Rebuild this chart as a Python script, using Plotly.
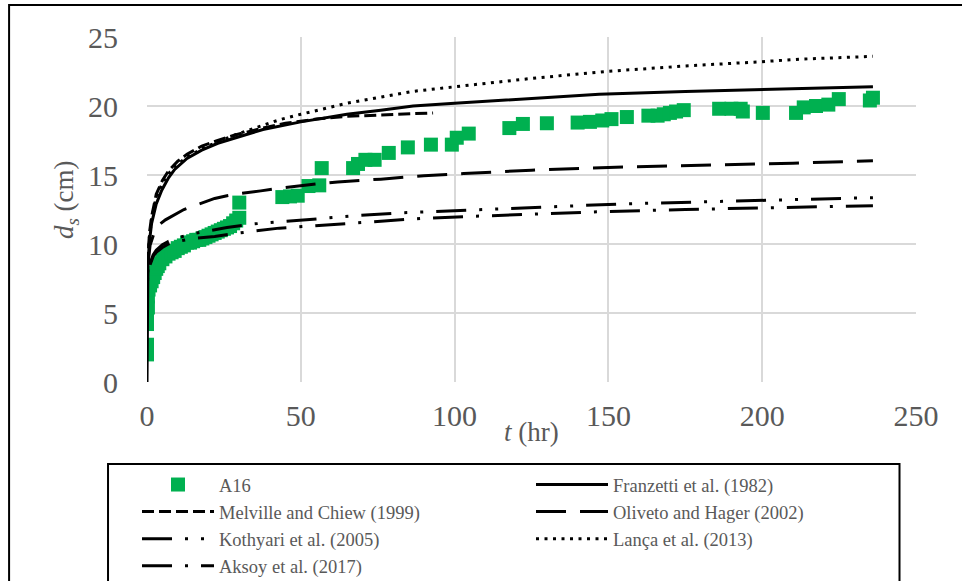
import plotly.graph_objects as go

# ---------------- data ----------------
a16_t = [0, 0, 0, 0, 0.3, 0.3, 0.5, 1, 1.5, 2, 2.5, 3, 3.5, 4, 5, 6, 7, 8, 9, 10,
         11, 12, 13, 14, 15, 16, 17, 18, 19, 20, 21, 22, 23, 24, 25, 26, 27, 28, 29, 30, 30,
         44, 46.5, 49, 52.5, 56, 56.8, 67, 68.6, 71, 74, 78.6, 84.8, 92.3, 99.1, 100.7, 104.6,
         117.8, 122.2, 130, 140, 144, 148, 151, 156, 163, 166, 168, 170, 172, 174.5,
         186, 190, 193, 193.7, 200.2, 211, 213.5, 217.5, 221.5, 224.9, 235, 236]
a16_d = [2.0, 2.7, 4.2, 4.6, 5.4, 6.2, 6.7, 7.0, 7.3, 7.6, 7.9, 8.2, 8.4, 8.6, 8.9, 9.1, 9.3, 9.4, 9.5, 9.7,
         9.8, 9.9, 10.1, 10.1, 10.2, 10.3, 10.3, 10.4, 10.5, 10.6, 10.7, 10.8, 10.9, 11.0, 11.1, 11.2, 11.3, 11.5, 11.7, 11.9, 13.0,
         13.4, 13.45, 13.5, 14.2, 14.25, 15.5, 15.5, 15.8, 16.1, 16.1, 16.6, 17.0, 17.2, 17.2, 17.7, 18.0,
         18.4, 18.7, 18.75, 18.8, 18.85, 18.95, 19.05, 19.2, 19.3, 19.3, 19.4, 19.5, 19.6, 19.7,
         19.8, 19.8, 19.8, 19.6, 19.5, 19.5, 19.9, 20.0, 20.1, 20.5, 20.4, 20.6]

franzetti_t = [0, 0.05, 0.3, 0.8, 1.5, 3, 4.8, 7, 9, 13, 17.8, 23, 28.6, 37.7, 50, 65, 76, 86.5, 100, 125, 147, 175, 200, 220, 236]
franzetti_d = [0, 6.0, 8.5, 10.2, 11.5, 12.9, 13.9, 14.8, 15.4, 16.2, 16.8, 17.3, 17.7, 18.3, 18.85, 19.4, 19.7, 20.0, 20.2, 20.55, 20.85, 21.05, 21.2, 21.3, 21.4]

melville_t = [0.05, 0.3, 0.8, 1.5, 3, 5, 7, 10, 13, 17.8, 23, 28.6, 37.7, 45, 55, 65, 76, 85, 93]
melville_d = [6.0, 9.0, 10.8, 12.0, 13.6, 14.6, 15.3, 16.0, 16.5, 17.1, 17.5, 17.9, 18.4, 18.75, 19.05, 19.25, 19.35, 19.45, 19.5]

oliveto_t = [0.3, 1, 2.6, 4, 6, 8, 12, 17, 22, 26, 30, 37, 45, 55, 62, 76, 90, 103, 125, 150, 180, 210, 236]
oliveto_d = [8.5, 9.9, 11.0, 11.4, 11.75, 12.0, 12.5, 12.9, 13.3, 13.5, 13.65, 13.85, 14.1, 14.35, 14.5, 14.7, 14.95, 15.1, 15.35, 15.55, 15.7, 15.85, 16.04]

kothyari_t = [1, 2, 3, 5, 7, 10, 15, 20, 26, 34.5, 43, 55.6, 68, 81.6, 104, 125, 154, 180, 200, 220, 236]
kothyari_d = [8.6, 9.2, 9.55, 9.95, 10.2, 10.45, 10.75, 10.95, 11.2, 11.45, 11.6, 11.86, 12.05, 12.25, 12.46, 12.65, 12.9, 13.05, 13.15, 13.25, 13.36]

lanca_t = [0.05, 0.3, 0.8, 1.5, 3, 5, 7, 10, 13, 17.8, 23, 28.6, 35, 43, 50, 65, 86, 104, 125, 149, 175, 199, 213, 236]
lanca_d = [5.5, 8.7, 10.5, 11.8, 13.4, 14.4, 15.1, 15.8, 16.3, 16.9, 17.4, 17.9, 18.4, 19.0, 19.4, 20.2, 21.05, 21.5, 22.0, 22.5, 22.9, 23.2, 23.4, 23.6]

aksoy_t = [1, 2, 3, 5, 7, 10, 15, 22, 28, 33, 43, 53, 68, 89, 109, 130, 147, 175, 200, 220, 236]
aksoy_d = [8.5, 9.1, 9.4, 9.75, 10.0, 10.2, 10.4, 10.55, 10.75, 10.9, 11.15, 11.3, 11.55, 11.85, 12.03, 12.2, 12.34, 12.5, 12.6, 12.7, 12.78]

x_ticks = [0, 50, 100, 150, 200, 250]
y_ticks = [0, 5, 10, 15, 20, 25]

# ---------------- layout geometry ----------------
W, H = 962, 581
L, R, T, B = 147, 916.5, 37, 382
PW, PH = R - L, B - T


def px(x):
    return (x - L) / PW


def py(y):
    return (B - y) / PH


FONT = "Liberation Serif, Times New Roman, serif"
GREY = "#595959"
LW = 3

fig = go.Figure()
fig.add_trace(go.Scatter(x=a16_t, y=a16_d, mode="markers", name="A16",
                         marker=dict(symbol="square", size=14, color="#00B050")))
fig.add_trace(go.Scatter(x=franzetti_t, y=franzetti_d, mode="lines", name="Franzetti et al. (1982)",
                         line=dict(color="black", width=LW)))
fig.add_trace(go.Scatter(x=melville_t, y=melville_d, mode="lines", name="Melville and Chiew (1999)",
                         line=dict(color="black", width=LW, dash="12px,5px")))
fig.add_trace(go.Scatter(x=oliveto_t, y=oliveto_d, mode="lines", name="Oliveto and Hager (2002)",
                         line=dict(color="black", width=LW, dash="30px,14px")))
fig.add_trace(go.Scatter(x=kothyari_t, y=kothyari_d, mode="lines", name="Kothyari et al. (2005)",
                         line=dict(color="black", width=LW, dash="30px,13px,3px,13px,3px,13px")))
fig.add_trace(go.Scatter(x=lanca_t, y=lanca_d, mode="lines", name="Lança et al. (2013)",
                         line=dict(color="black", width=LW, dash="3px,5.5px")))
fig.add_trace(go.Scatter(x=aksoy_t, y=aksoy_d, mode="lines", name="Aksoy et al. (2017)",
                         line=dict(color="black", width=LW, dash="30px,13px,3px,13px")))

shapes = [
    # outer chart border
    dict(type="rect", xref="paper", yref="paper", x0=px(9), x1=px(990), y0=py(610), y1=py(5),
         line=dict(color="black", width=2), layer="above"),
    # legend border
    dict(type="rect", xref="paper", yref="paper", x0=px(108), x1=px(900), y0=py(620), y1=py(464),
         line=dict(color="black", width=2), layer="above"),
]

annotations = [
    dict(text="<i>t</i> (hr)", xref="paper", yref="paper", x=px(532), y=py(432),
         xanchor="center", yanchor="middle", showarrow=False, font=dict(family=FONT, size=27, color=GREY)),
    dict(text="<i>d<sub>s</sub></i> (cm)", xref="paper", yref="paper", x=px(66), y=py(200),
         xanchor="center", yanchor="middle", textangle=-90, showarrow=False,
         font=dict(family=FONT, size=27, color=GREY)),
]

fig.update_layout(
    width=W, height=H,
    margin=dict(l=L, r=W - R, t=T, b=H - B, autoexpand=False),
    paper_bgcolor="white", plot_bgcolor="white",
    font=dict(family=FONT, color=GREY),
    showlegend=True,
    legend=dict(orientation="h", x=px(137), y=py(466), xanchor="left", yanchor="top",
                entrywidth=307, entrywidthmode="pixels", itemwidth=72,
                font=dict(family=FONT, size=18.5, color=GREY),
                bgcolor="rgba(0,0,0,0)", borderwidth=0, tracegroupgap=0),
    shapes=shapes,
    annotations=annotations,
    xaxis=dict(range=[0, 250], tickvals=x_ticks, showgrid=True, gridcolor="#D9D9D9", gridwidth=1.5,
               zeroline=False, showline=False, ticks="", ticklabelstandoff=13,
               tickfont=dict(family=FONT, size=30, color=GREY), fixedrange=True),
    yaxis=dict(range=[0, 25], tickvals=y_ticks, showgrid=True, gridcolor="#D9D9D9", gridwidth=1.5,
               zeroline=False, showline=False, ticks="", ticklabelstandoff=28,
               tickfont=dict(family=FONT, size=30, color=GREY), fixedrange=True),
)

fig.write_html("out.html")
